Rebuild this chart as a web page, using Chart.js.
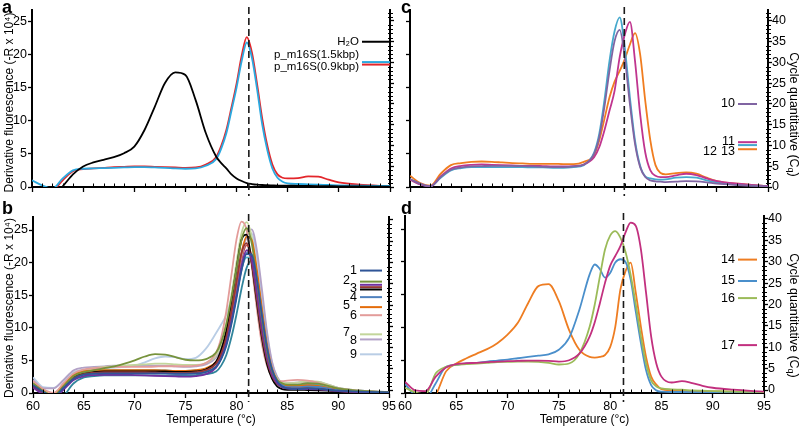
<!DOCTYPE html>
<html>
<head>
<meta charset="utf-8">
<script src="https://cdn.jsdelivr.net/npm/chart.js@4.4.1/dist/chart.umd.min.js"></script>
<style>
  body { margin: 0; background: #fff; }
  #wrap { position: relative; width: 800px; height: 430px; font-family: "Liberation Sans", Arial, sans-serif; }
  canvas { position: absolute; }
  .tag { position: absolute; font-weight: bold; font-size: 18px; line-height: 1; }
</style>
</head>
<body>
<div id="wrap">
  <canvas id="chartA" width="400" height="200" style="left:0;top:0"></canvas>
  <canvas id="chartB" width="400" height="230" style="left:0;top:200px"></canvas>
  <canvas id="chartC" width="400" height="200" style="left:400px;top:0"></canvas>
  <canvas id="chartD" width="408" height="230" style="left:392px;top:200px"></canvas>
  <div class="tag" style="left:2px;top:-2px">a</div>
  <div class="tag" style="left:2px;top:199px">b</div>
  <div class="tag" style="left:401px;top:-2px">c</div>
  <div class="tag" style="left:401px;top:199px">d</div>
</div>
<script>
// shared temperature grid (°C) and axis ticks
const temps = [60, 61, 62, 63, 64, 65, 66, 67, 68, 69, 70, 71, 72, 73, 74, 75, 76, 77, 78, 78.5,
  79, 79.5, 80, 80.5, 81, 81.5, 82, 82.5, 83, 83.5, 84, 84.5, 85, 86, 87, 88, 89, 90, 92, 95];
const tempTicks = [60, 65, 70, 75, 80, 85, 90, 95];
const fluorTicks = [0, 5, 10, 15, 20, 25];
const cqTicks = [0, 5, 10, 15, 20, 25, 30, 35, 40];
const meltTemps = [81.2, 81.2, 80.95, 81.3];

// panel a
const namesA = ["H₂O", "p_m16S(1.5kbp)", "p_m16S(0.9kbp)"];
const cqA = [35, 30.1, 29.5];
const h2o = [-2.5, -2.5, -1.5, 0.1, 1.9, 3.1, 3.7, 4.1, 4.5, 5.1, 6.1, 8.6, 12.1, 15.7, 17.3, 16.9, 13.1, 8.1, 4.6, 3.6,
  2.8, 1.9, 1.3, 0.9, 0.6, 0.45, 0.35, 0.3, 0.28, 0.25, 0.22, 0.2, 0.2, 0.18, 0.16, 0.14, 0.12, 0.1, 0.08, 0.05];
const m16s15 = [1.0, 0.25, -0.25, 1.3, 2.5, 2.75, 2.8, 2.85, 2.9, 2.95, 3.0, 3.0, 2.95, 2.9, 2.8, 2.75, 2.8, 3.2, 4.2, 5.8,
  8.1, 11.5, 15.0, 19.0, 21.8, 19.5, 14.8, 9.5, 5.6, 2.8, 1.4, 0.8, 0.55, 0.45, 0.4, 0.35, 0.3, 0.25, 0.2, 0.15];
const m16s09 = [-1.0, -1.0, -0.6, 1.0, 2.4, 2.7, 2.8, 2.9, 3.0, 3.05, 3.1, 3.1, 3.05, 3.0, 2.95, 2.9, 2.95, 3.4, 4.5, 6.2,
  8.6, 12.0, 15.6, 19.8, 22.6, 20.3, 15.6, 10.4, 6.3, 3.4, 1.9, 1.4, 1.3, 1.35, 1.6, 1.55, 1.1, 0.7, 0.35, 0.1];

// panel b
const namesB = ["1", "2", "", "3", "", "4", "5", "6", "7", "8", "9"];
const cqB = [28.1, 25.5, 24.75, 24.2, 23.65, 21.85, 19.5, 17.6, 13.1, 11.9, 8.4];
const b1 = [1.2, 0.2, -0.6, 0.8, 2.2, 2.8, 2.95, 3.0, 3.0, 3.0, 3.0, 3.0, 3.0, 3.0, 2.95, 2.95, 3.0, 3.2, 4.0, 5.2,
  7.2, 10.5, 14.5, 18.8, 21.3, 21.2, 17.5, 12.0, 7.0, 3.6, 1.8, 1.0, 0.7, 0.6, 0.7, 0.65, 0.5, 0.35, 0.2, 0.1];
const b2 = [1.5, 0.3, -0.4, 1.0, 2.6, 3.2, 3.5, 3.8, 4.1, 4.5, 5.0, 5.6, 5.95, 5.9, 5.5, 5.1, 5.0, 5.2, 6.2, 7.8,
  10.5, 14.5, 19.0, 23.5, 25.3, 23.0, 17.5, 11.5, 6.5, 3.4, 2.0, 1.5, 1.3, 1.3, 1.5, 1.45, 1.1, 0.7, 0.35, 0.1];
const b3a = [0.8, -0.2, -0.8, 0.5, 2.0, 2.6, 2.75, 2.8, 2.8, 2.8, 2.75, 2.7, 2.65, 2.6, 2.55, 2.5, 2.6, 2.9, 3.9, 5.3,
  7.6, 11.0, 15.0, 19.5, 21.9, 20.5, 15.5, 10.0, 5.5, 2.8, 1.5, 0.9, 0.7, 0.6, 0.6, 0.55, 0.45, 0.3, 0.15, 0.05];
const b3b = [1.0, 0.0, -0.6, 0.7, 2.3, 2.9, 3.1, 3.2, 3.2, 3.2, 3.2, 3.2, 3.15, 3.1, 3.1, 3.1, 3.2, 3.5, 4.5, 6.0,
  8.5, 12.5, 17.0, 21.5, 23.0, 20.0, 14.5, 9.0, 5.0, 2.6, 1.4, 0.9, 0.7, 0.65, 0.7, 0.6, 0.45, 0.3, 0.15, 0.05];
const b3c = [1.1, 0.1, -0.5, 0.8, 2.4, 3.0, 3.2, 3.3, 3.3, 3.3, 3.3, 3.3, 3.3, 3.3, 3.25, 3.25, 3.3, 3.6, 4.8, 6.6,
  9.5, 14.0, 19.0, 23.5, 24.3, 20.0, 14.0, 8.5, 4.5, 2.2, 1.0, 0.6, 0.5, 0.5, 0.45, 0.4, 0.35, 0.3, 0.15, 0.05];
const b4 = [1.3, 0.2, -0.5, 0.9, 2.4, 2.9, 3.05, 3.1, 3.1, 3.1, 3.1, 3.1, 3.1, 3.05, 3.0, 3.0, 3.05, 3.3, 4.1, 5.4,
  7.5, 10.8, 14.8, 19.0, 21.5, 21.3, 17.5, 12.0, 7.0, 3.6, 1.9, 1.2, 0.9, 0.9, 1.0, 0.95, 0.7, 0.45, 0.25, 0.1];
const b5 = [1.4, 0.3, -0.4, 1.1, 2.7, 3.3, 3.45, 3.5, 3.5, 3.5, 3.5, 3.5, 3.5, 3.45, 3.4, 3.4, 3.5, 3.8, 4.8, 6.3,
  8.8, 12.5, 17.0, 21.5, 24.0, 23.5, 19.0, 13.0, 7.5, 3.8, 2.0, 1.3, 1.1, 1.1, 1.2, 1.1, 0.8, 0.5, 0.25, 0.1];
const b6 = [1.8, 0.6, 0.0, 1.5, 3.0, 3.6, 3.8, 3.9, 4.0, 4.0, 4.0, 4.0, 4.05, 4.1, 4.1, 4.1, 4.2, 4.6, 6.2, 8.5,
  12.5, 18.0, 23.5, 26.3, 25.0, 19.5, 13.0, 7.5, 4.2, 2.5, 1.9, 1.8, 1.9, 2.0, 1.9, 1.6, 1.1, 0.7, 0.35, 0.1];
const b7 = [1.6, 0.5, -0.1, 1.3, 2.9, 3.5, 3.8, 4.0, 4.1, 4.2, 4.3, 4.4, 4.5, 4.5, 4.4, 4.3, 4.3, 4.6, 5.8, 7.5,
  10.5, 15.0, 20.0, 24.5, 26.2, 24.0, 18.5, 12.5, 7.0, 3.8, 2.2, 1.6, 1.5, 1.6, 1.8, 1.75, 1.3, 0.8, 0.4, 0.1];
const b8 = [2.0, 0.7, 0.7, 2.0, 3.5, 3.9, 4.0, 4.1, 4.2, 4.2, 4.2, 4.2, 4.2, 4.2, 4.1, 4.0, 4.1, 4.4, 5.4, 6.8,
  9.2, 12.8, 17.0, 21.0, 24.0, 25.1, 22.0, 16.0, 9.5, 4.8, 2.5, 1.6, 1.5, 1.6, 1.75, 1.7, 1.3, 0.8, 0.4, 0.1];
const b9 = [2.4, 0.9, 0.8, 1.9, 3.2, 3.6, 3.7, 3.8, 3.9, 4.0, 4.2, 4.7, 5.3, 5.6, 5.5, 5.2, 5.4, 6.8, 9.2, 10.5,
  12.0, 14.5, 18.0, 21.5, 24.0, 24.5, 21.0, 15.0, 9.0, 4.6, 2.4, 1.6, 1.5, 1.6, 1.7, 1.6, 1.2, 0.8, 0.4, 0.1];
const bTeal = [-1.0, -2.0, -2.0, -0.5, 1.5, 2.4, 2.6, 2.7, 2.7, 2.7, 2.7, 2.7, 2.7, 2.7, 2.7, 2.7, 2.75, 2.9, 3.3, 4.2,
  5.8, 8.5, 12.0, 16.0, 19.2, 20.3, 18.0, 13.0, 7.8, 4.0, 2.0, 1.1, 0.8, 0.7, 0.75, 0.7, 0.5, 0.35, 0.2, 0.1];
const bRed = [1.0, 0.0, -0.6, 0.8, 2.4, 3.0, 3.2, 3.3, 3.3, 3.3, 3.3, 3.3, 3.3, 3.25, 3.2, 3.2, 3.3, 3.6, 4.6, 6.0,
  8.4, 12.0, 16.5, 20.5, 22.7, 21.0, 16.0, 10.5, 6.0, 3.0, 1.6, 1.0, 0.8, 0.75, 0.75, 0.7, 0.6, 0.45, 0.2, 0.05];
const bCyan = [1.6, 0.5, -0.2, 1.2, 2.8, 3.3, 3.4, 3.45, 3.5, 3.5, 3.5, 3.5, 3.5, 3.45, 3.4, 3.4, 3.45, 3.7, 4.5, 5.7,
  7.8, 11.0, 15.0, 19.0, 20.8, 20.6, 17.5, 12.5, 7.5, 3.9, 2.0, 1.3, 1.1, 1.15, 1.3, 1.25, 0.9, 0.55, 0.3, 0.1];

// panel c
const namesC = ["10", "11", "12", "13"];
const cqC = [20, 10.8, 10.1, 9.1];
const c10 = [1.2, 0.5, 0.1, 1.5, 2.6, 2.95, 3.1, 3.15, 3.2, 3.2, 3.2, 3.15, 3.1, 3.05, 3.0, 3.0, 3.1, 3.4, 5.0, 7.5,
  12.0, 17.5, 22.0, 23.7, 19.5, 12.5, 6.5, 3.0, 1.5, 1.0, 0.85, 0.8, 0.75, 0.8, 0.9, 0.85, 0.7, 0.5, 0.3, 0.1];
const c11 = [1.1, 0.4, 0.1, 1.6, 2.8, 3.2, 3.35, 3.4, 3.35, 3.3, 3.25, 3.2, 3.2, 3.15, 3.1, 3.1, 3.15, 3.4, 4.5, 6.0,
  8.5, 11.5, 14.5, 19.6, 23.0, 24.9, 19.0, 11.0, 5.2, 2.5, 1.7, 1.5, 1.5, 1.75, 2.0, 1.8, 1.3, 0.9, 0.5, 0.15];
const c12 = [1.2, 0.4, 0.1, 1.4, 2.5, 2.85, 3.0, 3.0, 3.0, 3.0, 3.0, 3.0, 2.95, 2.95, 2.9, 2.9, 3.0, 3.3, 5.2, 8.0,
  13.0, 19.0, 23.5, 25.6, 21.0, 13.5, 7.0, 3.2, 1.6, 1.3, 1.15, 1.1, 1.15, 1.4, 1.5, 1.4, 1.0, 0.7, 0.4, 0.1];
const c13 = [1.7, 0.6, 0.2, 2.0, 3.3, 3.6, 3.8, 3.85, 3.8, 3.7, 3.6, 3.55, 3.5, 3.5, 3.5, 3.45, 3.45, 3.8, 4.8, 7.0,
  10.2, 13.5, 15.9, 17.5, 19.3, 21.5, 23.2, 20.0, 13.0, 7.0, 3.3, 2.1, 1.9, 2.1, 2.2, 2.0, 1.4, 0.9, 0.5, 0.15];

// panel d
const namesD = ["14", "15", "16", "17"];
const cqD = [30.5, 25.5, 21.5, 10.5];
const d14 = [-2.0, -2.5, -2.0, -0.3, 3.3, 4.5, 5.3, 6.0, 6.7, 7.6, 8.9, 10.7, 13.7, 16.3, 16.6, 14.0, 9.6, 6.6, 5.5, 5.4,
  5.5, 5.8, 7.0, 10.1, 15.8, 18.6, 19.9, 15.3, 10.1, 5.5, 2.5, 1.3, 0.6, 0.4, 0.35, 0.3, 0.28, 0.25, 0.2, 0.15];
const d15 = [1.4, -0.4, -0.8, 1.5, 4.0, 4.3, 4.5, 4.6, 4.8, 4.95, 5.1, 5.3, 5.5, 5.7, 5.9, 6.6, 8.4, 12.7, 18.1, 19.6,
  18.9, 17.6, 18.3, 19.9, 20.4, 20.0, 17.3, 12.4, 7.6, 3.5, 1.2, 0.4, 0.2, 0.15, 0.15, 0.12, 0.1, 0.1, 0.08, 0.05];
const d16 = [0.8, 0.1, -0.2, 3.0, 4.0, 4.3, 4.4, 4.5, 4.6, 4.7, 4.75, 4.8, 4.8, 4.75, 4.6, 4.35, 4.5, 6.0, 10.1, 13.5,
  17.8, 21.9, 24.0, 24.7, 23.7, 21.5, 18.0, 13.5, 8.6, 4.5, 1.9, 1.0, 0.7, 0.55, 0.5, 0.4, 0.35, 0.3, 0.2, 0.15];
const d17 = [1.7, 0.4, 0.3, 2.5, 3.9, 4.4, 4.55, 4.6, 4.7, 4.8, 4.85, 4.9, 4.95, 4.95, 4.9, 4.8, 5.0, 6.0, 8.6, 10.8,
  13.7, 16.8, 19.4, 20.9, 22.4, 24.5, 26.0, 25.5, 21.9, 15.3, 8.6, 4.5, 2.5, 1.6, 1.8, 1.5, 1.1, 0.8, 0.5, 0.2];

const FONT = '"Liberation Sans", Arial, sans-serif';
Chart.defaults.font.family = FONT;
Chart.defaults.color = "#000";

function seg(ctx, x0, y0, x1, y1) {
  ctx.beginPath();
  ctx.moveTo(x0, y0);
  ctx.lineTo(x1, y1);
  ctx.stroke();
}

// minor ticks, dashed melt line, side legend and axis titles
const decor = {
  id: "decor",
  afterDraw(chart, args, o) {
    const { ctx, chartArea: ca } = chart;
    const x = chart.scales.x, y1 = chart.scales.y1;
    ctx.save();
    ctx.strokeStyle = "#000";
    ctx.lineWidth = 1;
    for (let t = x.min + 1; t < x.max; t++) {
      if (t % 5 === 0) continue;
      const px = Math.round(x.getPixelForValue(t)) + 0.5;
      seg(ctx, px, ca.bottom, px, ca.bottom - 3.5);
    }
    for (let c = Math.ceil(y1.min); c <= Math.floor(y1.max); c++) {
      if (c % 5 === 0) continue;
      const py = Math.round(y1.getPixelForValue(c)) + 0.5;
      seg(ctx, ca.right - 2, py, ca.right + 3, py);
    }

    const mx = x.getPixelForValue(o.melt);
    ctx.setLineDash([7, 4]);
    ctx.strokeStyle = "#1a1a1a";
    ctx.lineWidth = 1.6;
    seg(ctx, mx, ca.top - 3, mx, ca.bottom + 9);
    ctx.setLineDash([]);

    ctx.font = o.legendFont;
    ctx.textAlign = "right";
    ctx.textBaseline = "middle";
    ctx.fillStyle = "#000";
    ctx.lineWidth = 2;
    o.names.forEach((name, i) => {
      const py = y1.getPixelForValue(o.cq[i]);
      const x0 = ca.right - o.lineFrom, x1 = ca.right - o.lineTo;
      ctx.strokeStyle = o.colors[i];
      seg(ctx, x0, py, x1, py);
      const sh = o.shift[i] || [0, 0];
      if (name) ctx.fillText(name, x0 - 3 + sh[0], py + sh[1]);
    });

    const midY = (ca.top + ca.bottom) / 2;
    if (o.fluorTitle !== undefined) {
      ctx.save();
      ctx.translate(10, midY + o.fluorTitle);
      ctx.rotate(-Math.PI / 2);
      ctx.textAlign = "center";
      ctx.font = "12px " + FONT;
      ctx.fillText("Derivative fluorescence (-R x 10⁴)", 0, 0);
      ctx.restore();
    }

    if (o.cqTitle !== undefined) {
      ctx.translate(chart.width - 7, midY + o.cqTitle);
      ctx.rotate(Math.PI / 2);
      ctx.textAlign = "left";
      const big = "12.5px " + FONT, small = "9px " + FONT;
      const a = "Cycle quantitative (C", b = "q", c = ")";
      ctx.font = big; const wa = ctx.measureText(a).width, wc = ctx.measureText(c).width;
      ctx.font = small; const wb = ctx.measureText(b).width;
      const s = -(wa + wb + wc) / 2;
      ctx.font = big; ctx.fillText(a, s, 0);
      ctx.font = small; ctx.fillText(b, s + wa, 3);
      ctx.font = big; ctx.fillText(c, s + wa + wb, 0);
    }
    ctx.restore();
  }
};

function makePanel(id, p) {
  const axisGrid = { drawOnChartArea: false, color: "#000", tickWidth: 1.3 };
  return new Chart(document.getElementById(id), {
    type: "line",
    data: {
      datasets: p.series.map((s, i) => ({
        data: temps.map((t, k) => ({ x: t, y: s[k] })),
        borderColor: p.colors[i],
        borderWidth: 1.8,
        pointRadius: 0,
        cubicInterpolationMode: "monotone",
        fill: false
      }))
    },
    options: {
      responsive: false,
      animation: false,
      events: [],
      layout: { padding: { top: p.top, left: 0, right: 0, bottom: 0 } },
      plugins: {
        legend: { display: false },
        tooltip: { enabled: false },
        decor: p.decor
      },
      scales: {
        x: {
          type: "linear",
          min: tempTicks[0],
          max: tempTicks[tempTicks.length - 1],
          afterBuildTicks: (s) => { s.ticks = tempTicks.map((v) => ({ value: v })); },
          afterFit: (s) => { s.height = p.xH; },
          border: { color: "#000", width: 2 },
          grid: { ...axisGrid, tickLength: 5 },
          ticks: { display: p.xLabels, font: { size: 12.5 }, padding: 1, maxRotation: 0 },
          title: { display: p.xLabels, text: "Temperature (°c)", font: { size: 12 }, padding: { top: 0, bottom: 3 } }
        },
        y: {
          position: "left",
          min: 0,
          max: p.yMax,
          afterBuildTicks: (s) => { s.ticks = fluorTicks.map((v) => ({ value: v })); },
          afterFit: (s) => { s.width = p.yW; },
          border: { color: "#000", width: 2 },
          grid: { ...axisGrid, tickLength: 4 },
          ticks: { display: p.yLabels, font: { size: 12.5 }, padding: 1 }
        },
        y1: {
          position: "right",
          min: p.cqMin,
          max: p.cqMax,
          afterBuildTicks: (s) => { s.ticks = cqTicks.map((v) => ({ value: v })); },
          afterFit: (s) => { s.width = p.y1W; },
          border: { color: "#000", width: 2 },
          grid: { ...axisGrid, tickLength: 4 },
          ticks: { display: p.cqLabels, font: { size: 12.5 }, padding: 0 }
        }
      }
    },
    plugins: [decor]
  });
}

const colorsA = ["#000000", "#2aa9e0", "#e3262b"];
makePanel("chartA", {
  series: [h2o, m16s15, m16s09], colors: colorsA,
  top: 10, xH: 13, yW: 32, y1W: 10, yMax: 26.7, cqMin: 0, cqMax: 42.65,
  xLabels: false, yLabels: true, cqLabels: false,
  decor: { melt: meltTemps[0], names: namesA, cq: cqA, colors: colorsA, lineFrom: 28, lineTo: 0,
    shift: [[0, 0], [0, -7], [0, 2.5]], legendFont: "11.5px " + FONT, fluorTitle: 4 }
});

const colorsB = ["#2f5597", "#77933c", "#7030a0", "#953735", "#000000", "#4f81bd", "#e46c0a", "#e39c9a",
  "#c3d69b", "#b3a2c7", "#b9cde5", "#31859c", "#c0504d", "#4bacc6"];
makePanel("chartB", {
  series: [b1, b2, b3a, b3b, b3c, b4, b5, b6, b7, b8, b9, bTeal, bRed, bCyan], colors: colorsB,
  top: 17, xH: 37, yW: 33, y1W: 11, yMax: 27.0, cqMin: -0.7, cqMax: 40.7,
  xLabels: true, yLabels: true, cqLabels: false,
  decor: { melt: meltTemps[1], names: namesB, cq: cqB, colors: colorsB.slice(0, 11), lineFrom: 29, lineTo: 7,
    shift: [[0, 0], [-7, -1], [0, 0], [0, 1], [0, 0], [0, 0], [-7, -2], [0, 0], [-7, -2], [0, 1], [0, 0]],
    legendFont: "12.5px " + FONT, fluorTitle: 3 }
});

const colorsC = ["#8064a2", "#c0358f", "#45a8cc", "#f07d20"];
makePanel("chartC", {
  series: [c10, c11, c12, c13], colors: colorsC,
  top: 10, xH: 13, yW: 10, y1W: 32, yMax: 26.7, cqMin: 0, cqMax: 42.65,
  xLabels: false, yLabels: false, cqLabels: true,
  decor: { melt: meltTemps[2], names: namesC, cq: cqC, colors: colorsC, lineFrom: 30, lineTo: 11,
    shift: [[0, 0], [0, -1], [-18, 6], [0, 2]], legendFont: "12.5px " + FONT, cqTitle: 16 }
});

const colorsD = ["#c2307f", "#9bbb59", "#4a8fcb", "#ee7d22"];
makePanel("chartD", {
  series: [d17, d16, d15, d14], colors: colorsD,
  top: 16, xH: 37, yW: 13, y1W: 36, yMax: 27.0, cqMin: -0.7, cqMax: 40.7,
  xLabels: true, yLabels: false, cqLabels: true,
  decor: { melt: meltTemps[3], names: namesD, cq: cqD, colors: ["#ee7d22", "#4a8fcb", "#9bbb59", "#c2307f"],
    lineFrom: 26, lineTo: 7, shift: [], legendFont: "12.5px " + FONT, cqTitle: 11 }
});
</script>
</body>
</html>
